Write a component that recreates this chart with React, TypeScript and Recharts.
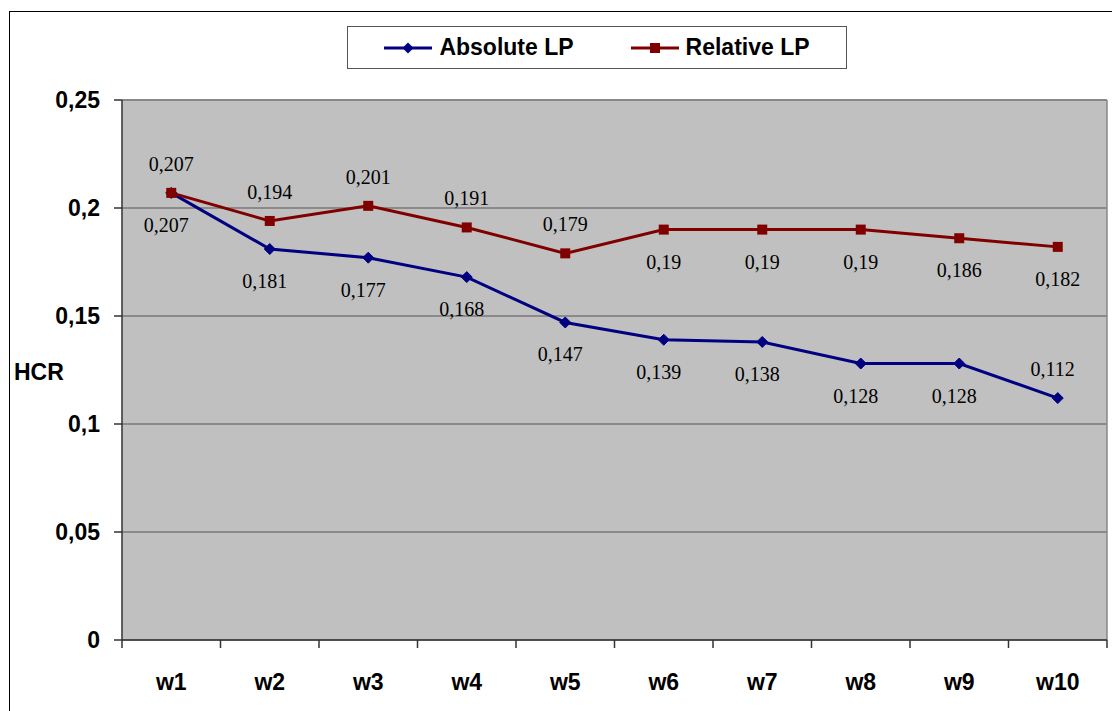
import React from 'react';
import {
  LineChart,
  Line,
  XAxis,
  YAxis,
  CartesianGrid,
  ReferenceLine,
  Legend,
  LabelList,
} from 'recharts';

const CATEGORIES = ['w1', 'w2', 'w3', 'w4', 'w5', 'w6', 'w7', 'w8', 'w9', 'w10'];
const ABSOLUTE_LP = [0.207, 0.181, 0.177, 0.168, 0.147, 0.139, 0.138, 0.128, 0.128, 0.112];
const RELATIVE_LP = [0.207, 0.194, 0.201, 0.191, 0.179, 0.19, 0.19, 0.19, 0.186, 0.182];
const Y_TICKS = [0, 0.05, 0.1, 0.15, 0.2, 0.25];

// label placement (true = above the point)
const ABS_LABEL_ABOVE = [false, false, false, false, false, false, false, false, false, true];
const REL_LABEL_ABOVE = [true, true, true, true, true, false, false, false, false, false];

const BLUE = '#000080';
const RED = '#800000';
const SANS = '"Liberation Sans", Arial, sans-serif';
const SERIF = '"Liberation Serif", "Times New Roman", serif';

const data = CATEGORIES.map((c, i) => ({ name: c, abs: ABSOLUTE_LP[i], rel: RELATIVE_LP[i] }));

const fmt = (v: number) => String(v).replace('.', ',');

const DiamondDot = (props: any) => {
  const { cx, cy, index } = props;
  if (cx == null || cy == null) return <g key={`d${index}`} />;
  const r = 5.5;
  return (
    <path
      key={`d${index}`}
      d={`M${cx},${cy - r} L${cx + r},${cy} L${cx},${cy + r} L${cx - r},${cy} Z`}
      fill={BLUE}
      stroke={BLUE}
      strokeWidth={1}
    />
  );
};

const SquareDot = (props: any) => {
  const { cx, cy, index } = props;
  if (cx == null || cy == null) return <g key={`s${index}`} />;
  const h = 5;
  return <rect key={`s${index}`} x={cx - h} y={cy - h} width={2 * h} height={2 * h} fill={RED} />;
};

const makeLabel = (above: boolean[], dx: number) => (props: any) => {
  const { x, y, value, index } = props;
  const up = above[index];
  return (
    <text
      x={x + dx}
      y={y + (up ? -29 : 32)}
      textAnchor="middle"
      dominantBaseline="central"
      fontFamily={SERIF}
      fontSize={20}
      fill="#000"
    >
      {fmt(value)}
    </text>
  );
};

const XTick = (props: any) => {
  const { x, y, payload, index, visibleTicksCount } = props;
  const half = payload.offset || 0;
  return (
    <g>
      <line x1={x - half} x2={x - half} y1={y} y2={y + 8} stroke="#333" strokeWidth={1.5} />
      {index === visibleTicksCount - 1 && (
        <line x1={x + half} x2={x + half} y1={y} y2={y + 8} stroke="#333" strokeWidth={1.5} />
      )}
      <text
        x={x}
        y={y + 42}
        textAnchor="middle"
        dominantBaseline="central"
        fontFamily={SANS}
        fontWeight="bold"
        fontSize={23}
        fill="#000"
      >
        {payload.value}
      </text>
    </g>
  );
};

const LegendIcon = ({ color, shape }: { color: string; shape: 'diamond' | 'square' }) => (
  <svg width={48} height={14} style={{ display: 'block' }}>
    <line x1={0} x2={48} y1={7} y2={7} stroke={color} strokeWidth={3} />
    {shape === 'diamond' ? (
      <path d="M24,1.5 L29.5,7 L24,12.5 L18.5,7 Z" fill={color} />
    ) : (
      <rect x={19} y={2} width={10} height={10} fill={color} />
    )}
  </svg>
);

const LegendBox = () => (
  <div
    style={{
      boxSizing: 'border-box',
      width: 500,
      height: 43,
      border: '1.5px solid #555',
      background: '#fff',
      display: 'flex',
      alignItems: 'center',
      justifyContent: 'center',
      gap: 57,
      fontFamily: SANS,
      fontWeight: 'bold',
      fontSize: 23,
      color: '#000',
    }}
  >
    <div style={{ display: 'flex', alignItems: 'center', gap: 7 }}>
      <LegendIcon color={BLUE} shape="diamond" />
      <span>Absolute LP</span>
    </div>
    <div style={{ display: 'flex', alignItems: 'center', gap: 7 }}>
      <LegendIcon color={RED} shape="square" />
      <span>Relative LP</span>
    </div>
  </div>
);

const HcrLabel = (props: any) => {
  const { viewBox } = props;
  return (
    <text
      x={14}
      y={viewBox.y + viewBox.height / 2 + 2}
      textAnchor="start"
      dominantBaseline="central"
      fontFamily={SANS}
      fontWeight="bold"
      fontSize={23}
      fill="#000"
    >
      HCR
    </text>
  );
};

export default function App() {
  return (
    <div
      style={{
        position: 'fixed',
        left: 0,
        top: 0,
        width: 1112,
        height: 711,
        overflow: 'hidden',
        background: '#fff',
      }}
    >
      <div
        style={{
          position: 'absolute',
          left: 9,
          top: 11,
          width: 1400,
          height: 1000,
          border: '1.5px solid #000',
        }}
      />
      <div style={{ position: 'absolute', left: 0, top: 0 }}>
        <LineChart width={1112} height={711} data={data} margin={{ top: 100, right: 5, left: 0, bottom: 0 }}>
          <CartesianGrid fill="#C0C0C0" vertical={false} stroke="#555" strokeWidth={1.2} />
          <CartesianGrid
            horizontal={false}
            fill="none"
            stroke="#888"
            strokeWidth={1.5}
            verticalCoordinatesGenerator={(p: any) => [p.offset.left + p.offset.width]}
          />
          <ReferenceLine y={0.25} stroke="#888" strokeWidth={2} />
          <XAxis
            dataKey="name"
            scale="band"
            height={71}
            tickLine={false}
            tickSize={0}
            tickMargin={0}
            interval={0}
            axisLine={{ stroke: '#333', strokeWidth: 1.5 }}
            tick={<XTick />}
          />
          <YAxis
            width={122}
            domain={[0, 0.25]}
            ticks={Y_TICKS}
            interval={0}
            tickFormatter={fmt}
            tickSize={8}
            tickMargin={14}
            axisLine={{ stroke: '#333', strokeWidth: 1.5 }}
            tickLine={{ stroke: '#333', strokeWidth: 1.5 }}
            tick={{ fontFamily: SANS, fontWeight: 'bold', fontSize: 23, fill: '#000' }}
            label={<HcrLabel />}
          />
          <Legend
            layout="horizontal"
            verticalAlign="middle"
            align="center"
            content={<LegendBox />}
            wrapperStyle={{ position: 'absolute', left: 347, top: 26, width: 500, height: 43 }}
          />
          <Line
            type="linear"
            dataKey="abs"
            name="Absolute LP"
            stroke={BLUE}
            strokeWidth={3}
            dot={DiamondDot}
            activeDot={false}
            isAnimationActive={false}
          >
            <LabelList dataKey="abs" content={makeLabel(ABS_LABEL_ABOVE, -5)} />
          </Line>
          <Line
            type="linear"
            dataKey="rel"
            name="Relative LP"
            stroke={RED}
            strokeWidth={3}
            dot={SquareDot}
            activeDot={false}
            isAnimationActive={false}
          >
            <LabelList dataKey="rel" content={makeLabel(REL_LABEL_ABOVE, 0)} />
          </Line>
        </LineChart>
      </div>
    </div>
  );
}
